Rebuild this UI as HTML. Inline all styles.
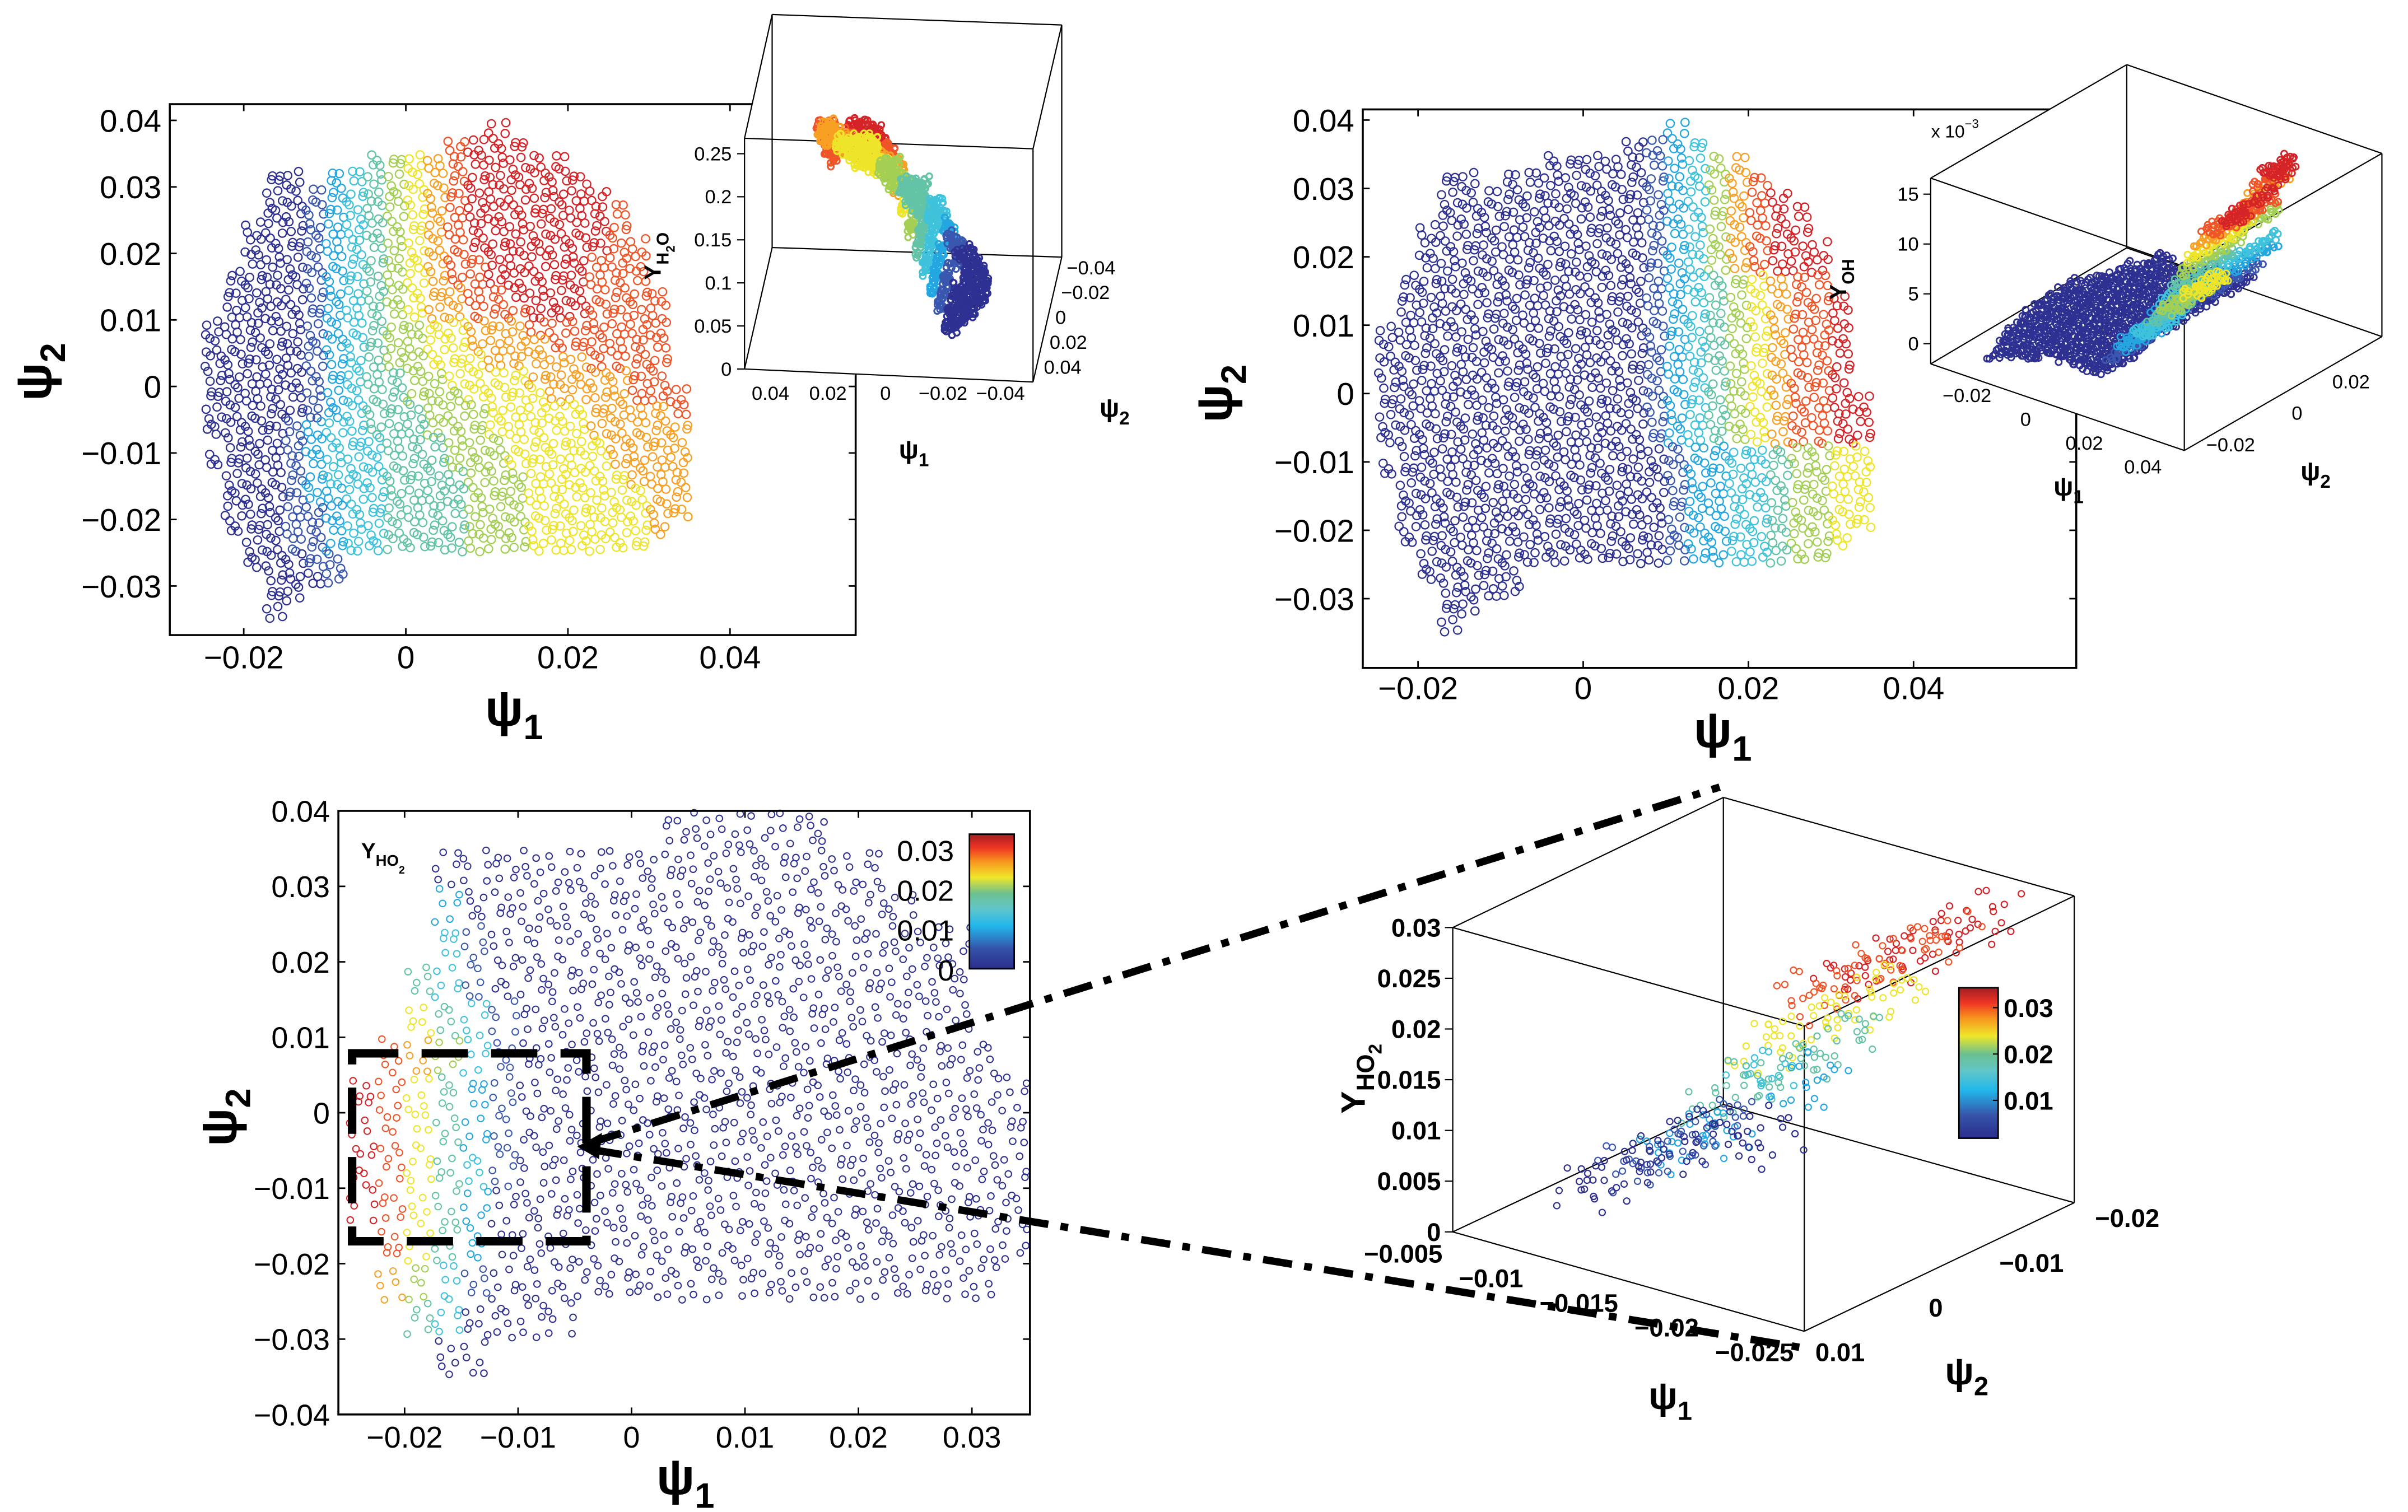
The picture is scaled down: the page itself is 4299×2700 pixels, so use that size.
<!DOCTYPE html>
<html><head><meta charset="utf-8"><title>Diffusion map embeddings</title>
<style>
html,body{margin:0;padding:0;background:#fff;}
svg{display:block;font-family:"Liberation Sans",Arial,sans-serif;}
</style></head>
<body>
<svg id="fig" xmlns="http://www.w3.org/2000/svg" width="4299" height="2700" viewBox="0 0 1559.9 979.7" preserveAspectRatio="none">
<defs>
<linearGradient id="jet" x1="0" y1="1" x2="0" y2="0">
<stop offset="0" stop-color="#2b2d8c"/><stop offset="0.15" stop-color="#3553a8"/><stop offset="0.32" stop-color="#22b8ec"/><stop offset="0.45" stop-color="#62c6c8"/><stop offset="0.56" stop-color="#6cc08e"/><stop offset="0.68" stop-color="#f0e62a"/><stop offset="0.8" stop-color="#f7931e"/><stop offset="0.9" stop-color="#ee3424"/><stop offset="1" stop-color="#a11d22"/>
</linearGradient>
</defs>
<rect x="0" y="0" width="1560" height="980" fill="#fff"/>
<g id="layer"></g>
</svg>
<script>
// ---------- data ----------
// Each row string = one psi2 band (top -> bottom), each char = colour level (0..9) of a psi1 cell, '.' = no samples
const p1Rows = [
"..............9.........",
"............8999........",
"........4567899999......",
"...00.2345678999999.....",
"...00123456789999999....",
"...001234567899999998...",
"..0001234567899999998...",
"..00012345678999999988..",
"..00012345678899999888..",
".000012345678899999888..",
".0000123456778899998888.",
".0000123456778889998888.",
"00000123455667778888888.",
"00000123455667777888888.",
"00000123455666777778888.",
"00000123445566667777788.",
"000001234455566667777888",
"000001234445556666677778",
"000012334445556666677777",
".00012333444555666667777",
"000012333444555666667777",
".00012333444455566666777",
".00012233444455566666677",
".00011233444455566666677",
".0001123344445556666667.",
"..00112334444555666666..",
"..00011.................",
"...0001.................",
"...00...................",
"...0...................."
];
const p2Rows = [
"..............2.........",
"............0123........",
"........0000012357......",
"...00.0000000123578.....",
"...00000000001235789....",
"...000000000012357899...",
"..0000000000012357899...",
"..00000000000123578999..",
"..00000000000123578999..",
".000000000000123456788..",
".0000000000001234567889.",
".0000000000001234567889.",
"00000000000001234567889.",
"00000000000001234567889.",
"00000000000001234567889.",
"00000000000001234567889.",
"000000000000012345678899",
"000000000000012345678899",
"000000000000012345678899",
".00000000000001223345566",
"000000000000001223345566",
".00000000000001223345566",
".00000000000001223345566",
".00000000000001223345566",
".0000000000000122334556.",
"..00000000000012233455..",
"..00000.................",
"...0000.................",
"...00...................",
"...0...................."
];
const p3Rows = [
"...........000000.......",
"...0000000000000000.....",
"...20000000000000000....",
"...3100000000000000000..",
"..43100000000000000000.",
"..64310000000000000000.",
".8753100000000000000000.",
"986421000000000000000000",
"986421000000000000000000",
"986431000000000000000000",
"986420000000000000000000",
".86420000000000000000000",
".7531000000000000000000..",
"..430000................",
"...00..................."
];
const p1XTicks = [-0.02, 0, 0.02, 0.04];
const p1YTicks = [0.04, 0.03, 0.02, 0.01, 0, -0.01, -0.02, -0.03];
const p2XTicks = [-0.02, 0, 0.02, 0.04];
const p2YTicks = [0.04, 0.03, 0.02, 0.01, 0, -0.01, -0.02, -0.03];
const p3XTicks = [-0.02, -0.01, 0, 0.01, 0.02, 0.03];
const p3YTicks = [0.04, 0.03, 0.02, 0.01, 0, -0.01, -0.02, -0.03, -0.04];
const cbTicks = [0, 0.01, 0.02, 0.03];
const h2oZTicks = [0, 0.05, 0.1, 0.15, 0.2, 0.25];
const h2oPsi1Ticks = [0.04, 0.02, 0, -0.02, -0.04];
const h2oPsi2Ticks = [-0.04, -0.02, 0, 0.02, 0.04];
const ohZTicks = [0, 5, 10, 15];
const ohPsi1Ticks = [-0.02, 0, 0.02, 0.04];
const ohPsi2Ticks = [0.02, 0, -0.02];
const ho2ZTicks = [0, 0.005, 0.01, 0.015, 0.02, 0.025, 0.03];
const ho2Psi1Ticks = [-0.005, -0.01, -0.015, -0.02, -0.025];
const ho2Psi2Ticks = [0.01, 0, -0.01, -0.02];
const levelColors = ["#2e3192","#3a57b0","#24a6e0","#3fc2dc","#62c3a6","#a3cf55","#eee52a","#f7a023","#ef5528","#d42428"];
const levelH2O = [0.025,0.048,0.071,0.094,0.117,0.14,0.163,0.186,0.209,0.232];
const levelOH = [0,0.0017,0.0034,0.0051,0.0068,0.0085,0.0102,0.0119,0.0136,0.0153];
const levelHO2 = [0.003,0.0061,0.0092,0.0123,0.0154,0.0185,0.0216,0.0247,0.0278,0.0309];

// ---------- helpers ----------
const NS = "http://www.w3.org/2000/svg";
const layer = document.getElementById("layer");
function add(parent, tag, name, attrs) {
  const el = document.createElementNS(NS, tag);
  for (const k in attrs) el.setAttribute(k, attrs[k]);
  
  
  parent.appendChild(el);
  return el;
}
function fmt(v) { return v < 0 ? "\u2212" + String(Math.abs(v)) : String(v); }
const JIT = [0.31,-0.42,0.12,0.47,-0.2,-0.05,0.38,-0.33,0.22,-0.12,0.44,-0.46,0.03,0.27,-0.28,0.16,-0.39,0.09,0.35,-0.17,-0.44,0.2,0.41,-0.08,-0.25];
function cells(rows, psi1Start, dPsi1, psi2Top, dPsi2) {
  const out = [];
  rows.forEach((r, ri) => {
    for (let ci = 0; ci < r.length; ci++) {
      const ch = r[ci];
      if (ch === '.') continue;
      out.push({a0: psi1Start + ci * dPsi1, a1: psi1Start + (ci + 1) * dPsi1, b1: psi2Top - ri * dPsi2, b0: psi2Top - (ri + 1) * dPsi2, L: +ch, id: ri * 31 + ci});
    }
  });
  return out;
}
function samples(c, nx, ny, fn) {
  for (let i = 0; i < nx; i++) for (let j = 0; j < ny; j++) {
    const k = (c.id * 7 + i * 5 + j * 3) % 25;
    const u = (i + 0.5 + 0.8 * JIT[k]) / nx;
    const v = (j + 0.5 + 0.8 * JIT[(k + 11) % 25]) / ny;
    fn(c.a0 + u * (c.a1 - c.a0), c.b1 - v * (c.b1 - c.b0), JIT[(k + 6) % 25]);
  }
}

// ---------- 2D panel ----------
function panel2D(cfg) {
  const g = add(layer, 'g', cfg.name, {});
  const xs = v => cfg.x0 + v * cfg.kx, ys = v => cfg.y0 - v * cfg.ky;
  const pts = add(g, 'g', 'scatter-points', {fill: 'none', 'stroke-width': cfg.sw});
  cells(cfg.rows, -0.025, cfg.dPsi1, 0.04, cfg.dPsi2).forEach(c => {
    samples(c, cfg.nx, cfg.ny, (p1, p2) => {
      const el = add(pts, 'circle', 'scatter-point', {cx: xs(p1).toFixed(1), cy: ys(p2).toFixed(1), r: cfg.r, stroke: levelColors[c.L]});
    });
  });
  const b = cfg.box;
  add(g, 'rect', 'axes-box', {x: b[0], y: b[1], width: b[2] - b[0], height: b[3] - b[1], fill: 'none', stroke: '#000', 'stroke-width': 1.3});
  cfg.xt.forEach(v => {
    const x = xs(v);
    add(g, 'line', 'x-tick', {x1: x, y1: b[3], x2: x, y2: b[3] - 4.5, stroke: '#000', 'stroke-width': 1});
    add(g, 'line', 'x-tick-top', {x1: x, y1: b[1], x2: x, y2: b[1] + 4.5, stroke: '#000', 'stroke-width': 1});
    const t = add(g, 'text', 'x-tick-label', {x: x, y: cfg.xLabY, 'text-anchor': 'middle', 'font-size': cfg.fs});
    t.textContent = fmt(v);
  });
  cfg.yt.forEach(v => {
    const y = ys(v);
    add(g, 'line', 'y-tick', {x1: b[0], y1: y, x2: b[0] + 4.5, y2: y, stroke: '#000', 'stroke-width': 1});
    add(g, 'line', 'y-tick-right', {x1: b[2], y1: y, x2: b[2] - 4.5, y2: y, stroke: '#000', 'stroke-width': 1});
    const t = add(g, 'text', 'y-tick-label', {x: b[0] - 5.5, y: y + cfg.fs * 0.36, 'text-anchor': 'end', 'font-size': cfg.fs});
    t.textContent = fmt(v);
  });
  const xl = add(g, 'text', 'x-axis-title', {x: cfg.xTitle[0], y: cfg.xTitle[1], 'text-anchor': 'middle', 'font-size': 33, 'font-weight': 'bold'});
  xl.innerHTML = 'ψ<tspan font-size="23" dy="9">1</tspan>';
  const yl = add(g, 'text', 'y-axis-title', {transform: 'translate(' + cfg.yTitle[0] + ',' + cfg.yTitle[1] + ') rotate(-90)', 'text-anchor': 'middle', 'font-size': 33, 'font-weight': 'bold'});
  yl.innerHTML = 'ψ<tspan font-size="23" dy="9">2</tspan>';
  return g;
}
panel2D({name: 'panel-h2o-2d', rows: p1Rows, dPsi1: 0.0025, dPsi2: 0.0025, x0: 262.9, kx: 5250, y0: 250.4, ky: 4310, box: [110, 67.5, 554.3, 411.5], xt: p1XTicks, yt: p1YTicks, xLabY: 433, fs: 20.5, nx: 2, ny: 2, r: 2.6, sw: 0.85, xTitle: [333, 470], yTitle: [33, 241]});
panel2D({name: 'panel-oh-2d', rows: p2Rows, dPsi1: 0.0025, dPsi2: 0.0025, x0: 1025.6, kx: 5350, y0: 255, ky: 4430, box: [882.8, 70.9, 1345, 432.8], xt: p2XTicks, yt: p2YTicks, xLabY: 453, fs: 20.5, nx: 2, ny: 2, r: 2.6, sw: 0.85, xTitle: [1116, 484], yTitle: [798, 255]});
panel2D({name: 'panel-ho2-2d', rows: p3Rows, dPsi1: 0.0025, dPsi2: 0.005, x0: 409.1, kx: 7350, y0: 721, ky: 4889, box: [219.2, 525.4, 667.2, 916.5], xt: p3XTicks, yt: p3YTicks, xLabY: 938, fs: 19.5, nx: 2, ny: 3, r: 2.1, sw: 0.75, xTitle: [444, 968], yTitle: [153, 724]});

// ---------- colorbar of panel 3 ----------
(function(){
  const g = add(layer, 'g', 'colorbar-2d', {});
  add(g, 'rect', 'colorbar-ramp', {x: 628, y: 540.5, width: 29, height: 87.2, fill: 'url(#jet)', stroke: '#000', 'stroke-width': 1});
  cbTicks.forEach(v => {
    const y = 628.3 - v / 0.01 * 25.8;
    const t = add(g, 'text', 'colorbar-label', {x: 618, y: y + 7, 'text-anchor': 'end', 'font-size': 19});
    t.textContent = String(v);
  });
  const yl = add(g, 'text', 'species-label', {x: 234, y: 556, 'font-size': 14, 'font-weight': 'bold'});
  yl.innerHTML = 'Y<tspan font-size="10" dy="5">HO</tspan><tspan font-size="7" dy="5">2</tspan>';
})();

// ---------- 3D helpers ----------
function cube(g, P, edges, hull) {
  if (hull) add(g, 'polygon', 'inset-background', {points: hull.map(k => P[k].join(',')).join(' '), fill: '#fff'});
  edges.forEach(e => add(g, 'line', 'cube-edge', {x1: P[e[0]][0], y1: P[e[0]][1], x2: P[e[1]][0], y2: P[e[1]][1], stroke: '#000', 'stroke-width': 0.8}));
}
function label(g, name, x, y, txt, fs, anchor, bold) {
  const t = add(g, 'text', name, {x: x, y: y, 'text-anchor': anchor, 'font-size': fs, 'font-weight': bold ? 'bold' : 'normal'});
  t.textContent = txt;
  return t;
}

// ---------- inset: Y_H2O 3D ----------
(function(){
  const g = add(layer, 'g', 'inset-h2o-3d', {});
  const P = {A:[500.2,9.4],B:[687.8,16.2],C:[482.3,89.6],D:[669.2,96.4],E:[500.2,160.4],F:[687.8,166.6],G:[482.3,239.1],H:[669.2,247.5]};
  cube(g, P, [['A','B'],['C','D'],['A','C'],['B','D'],['A','E'],['B','F'],['C','G'],['D','H'],['E','F'],['G','H'],['E','G'],['F','H']], ['A','B','F','H','G','C']);
  function proj(p1, p2, Y) {
    const xf = 509.1 + (0.04 - p1) / 0.08 * 149, yf = 239.1 + (xf - 482.3) * 0.045, d = (0.052 - p2) / 0.01;
    return [xf + d * 1.85, yf - d * 8.05 - Y / 0.05 * 27.9];
  }
  const pts = add(g, 'g', 'scatter-points', {fill: 'none', 'stroke-width': 1.15});
  cells(p1Rows, -0.025, 0.0025, 0.04, 0.0025).forEach(c => {
    samples(c, 2, 2, (a, b, j) => {
      const q = proj(a, b, levelH2O[c.L] + j * 0.012);
      const el = add(pts, 'circle', 'scatter-point', {cx: q[0].toFixed(1), cy: q[1].toFixed(1), r: 1.9, stroke: levelColors[c.L]});
    });
  });
  h2oZTicks.forEach(v => {
    const y = 239.1 - v / 0.05 * 27.9;
    add(g, 'line', 'z-tick', {x1: 482.3, y1: y, x2: 477.5, y2: y, stroke: '#000', 'stroke-width': 0.8});
    label(g, 'z-tick-label', 474, y + 4.3, String(v), 12.5, 'end');
  });
  h2oPsi1Ticks.forEach(v => {
    const x = 509.1 + (0.04 - v) / 0.08 * 149;
    label(g, 'psi1-tick-label', x - 10, 259, fmt(v), 12.5, 'middle');
  });
  h2oPsi2Ticks.forEach(v => {
    const d = (0.052 - v) / 0.01;
    label(g, 'psi2-tick-label', 674 + d * 1.85, 251.8 - d * 8.05, fmt(v), 12.5, 'start');
  });
  const t1 = add(g, 'text', 'psi1-axis-title', {x: 592, y: 297, 'text-anchor': 'middle', 'font-size': 17, 'font-weight': 'bold'});
  t1.innerHTML = 'ψ<tspan font-size="12" dy="5">1</tspan>';
  const t2 = add(g, 'text', 'psi2-axis-title', {x: 722, y: 270, 'text-anchor': 'middle', 'font-size': 17, 'font-weight': 'bold'});
  t2.innerHTML = 'ψ<tspan font-size="12" dy="5">2</tspan>';
  const t3 = add(g, 'text', 'z-axis-title', {transform: 'translate(428,166) rotate(-90)', 'text-anchor': 'middle', 'font-size': 15, 'font-weight': 'bold'});
  t3.innerHTML = 'Y<tspan font-size="11" dy="5">H</tspan><tspan font-size="8" dy="4">2</tspan><tspan font-size="11" dy="-4">O</tspan>';
})();

// ---------- inset: Y_OH 3D ----------
(function(){
  const g = add(layer, 'g', 'inset-oh-3d', {});
  const P = {L1:[1250.7,115.4],L2:[1250.7,235.8],A:[1377.7,41.9],Ab:[1377.7,160.6],R1:[1543,99.4],R2:[1543,218.1],F1:[1415,172.7],F2:[1415,291.9]};
  cube(g, P, [['L1','A'],['A','R1'],['L1','F1'],['F1','R1'],['L1','L2'],['R1','R2'],['F1','F2'],['A','Ab'],['L2','F2'],['F2','R2'],['L2','Ab'],['Ab','R2']], ['L1','A','R1','R2','F2','L2']);
  function proj(p1, p2, Z) {
    return [1321 + p1 / 0.02 * 43.96 + (p2 + 0.0367) / 0.02 * 33.5, 259.8 + p1 / 0.02 * 15.6 - (p2 + 0.0367) / 0.02 * 19.8 - (Z + 0.002) * 6460];
  }
  const pts = add(g, 'g', 'scatter-points', {fill: 'none', 'stroke-width': 1.05});
  cells(p2Rows, -0.025, 0.0025, 0.04, 0.0025).forEach(c => {
    samples(c, 2, 2, (a, b, j) => {
      const q = proj(a, b, levelOH[c.L] + j * 0.0008);
      const el = add(pts, 'circle', 'scatter-point', {cx: q[0].toFixed(1), cy: q[1].toFixed(1), r: 2.0, stroke: levelColors[c.L]});
    });
  });
  ohZTicks.forEach(v => {
    const y = 222.7 - v / 5 * 32.3;
    add(g, 'line', 'z-tick', {x1: 1250.7, y1: y, x2: 1246, y2: y, stroke: '#000', 'stroke-width': 0.8});
    label(g, 'z-tick-label', 1243, y + 4.3, String(v), 12.5, 'end');
  });
  const ex = add(g, 'text', 'exponent-label', {x: 1251, y: 89, 'font-size': 11.5});
  ex.innerHTML = 'x 10<tspan font-size="8" dy="-6">\u22123</tspan>';
  ohPsi1Ticks.forEach(v => {
    label(g, 'psi1-tick-label', 1312.2 + v / 0.02 * 38, 276 + v / 0.02 * 15.4, fmt(v), 12.5, 'middle');
  });
  ohPsi2Ticks.forEach(v => {
    label(g, 'psi2-tick-label', 1488 + v / 0.02 * 35 + (v < 0 ? -8 : 0), 272 - v / 0.02 * 20.4, fmt(v), 12.5, 'middle');
  });
  const t1 = add(g, 'text', 'psi1-axis-title', {x: 1340, y: 321, 'text-anchor': 'middle', 'font-size': 17, 'font-weight': 'bold'});
  t1.innerHTML = 'ψ<tspan font-size="12" dy="5">1</tspan>';
  const t2 = add(g, 'text', 'psi2-axis-title', {x: 1500, y: 311, 'text-anchor': 'middle', 'font-size': 17, 'font-weight': 'bold'});
  t2.innerHTML = 'ψ<tspan font-size="12" dy="5">2</tspan>';
  const t3 = add(g, 'text', 'z-axis-title', {transform: 'translate(1196,181) rotate(-90)', 'text-anchor': 'middle', 'font-size': 15, 'font-weight': 'bold'});
  t3.innerHTML = 'Y<tspan font-size="11" dy="5">OH</tspan>';
})();

// ---------- zoom box and dash-dot connectors ----------
(function(){
  const g = add(layer, 'g', 'zoom-annotation', {});
  add(g, 'rect', 'zoom-region-box', {x: 228.1, y: 682.5, width: 151.8, height: 121.8, fill: 'none', stroke: '#000', 'stroke-width': 5.5, 'stroke-dasharray': '30 15'});
  add(g, 'line', 'connector-upper', {x1: 384, y1: 740, x2: 1114, y2: 510, stroke: '#000', 'stroke-width': 4.8, 'stroke-dasharray': '19 8 5 8'});
  add(g, 'line', 'connector-lower', {x1: 384, y1: 745, x2: 1172, y2: 874, stroke: '#000', 'stroke-width': 4.8, 'stroke-dasharray': '19 8 5 8'});
  add(g, 'polygon', 'connector-arrowhead', {points: '374,743 390,734 388,751', fill: '#000'});
})();

// ---------- Y_HO2 3D (zoomed region) ----------
(function(){
  const g = add(layer, 'g', 'panel-ho2-3d', {});
  const P = {BT:[1116.4,516.7],BB:[1116.4,715.7],FLT:[941.1,601.0],FLB:[941.1,798.2],RT:[1343.7,580.5],RB:[1343.7,779.3],FT:[1168.8,664.9],FB:[1168.8,862.6]};
  cube(g, P, [['FLT','BT'],['BT','RT'],['FLT','FT'],['FT','RT'],['FLT','FLB'],['RT','RB'],['FT','FB'],['BT','BB'],['FLB','FB'],['FB','RB'],['FLB','BB'],['BB','RB']], null);
  function proj(p1, p2, Z) {
    const a = (p1 + 0.005) / -0.02, b = (0.01 - p2) / 0.03;
    return [941.1 + a * 227.7 + b * 174.9, 798.2 + a * 64.4 - b * 83.3 - Z / 0.03 * 197.2];
  }
  const pts = add(g, 'g', 'scatter-points', {fill: 'none', 'stroke-width': 0.8});
  cells(p3Rows, -0.025, 0.0025, 0.04, 0.005).forEach(c => {
    if (c.a1 > -0.0074 || c.b1 > 0.0076 || c.b0 < -0.0151) return;
    samples(c, 4, 4, (a, b, j) => {
      const q = proj(a, b, levelHO2[c.L] + j * 0.004);
      const el = add(pts, 'circle', 'scatter-point', {cx: q[0].toFixed(1), cy: q[1].toFixed(1), r: 2.0, stroke: levelColors[c.L]});
    });
  });
  ho2ZTicks.forEach(v => {
    const y = 798.2 - v / 0.03 * 197.2;
    add(g, 'line', 'z-tick', {x1: 941.1, y1: y, x2: 936, y2: y, stroke: '#000', 'stroke-width': 0.8});
    label(g, 'z-tick-label', 933.4, y + 5.8, String(v), 16.5, 'end', true);
  });
  ho2Psi1Ticks.forEach(v => {
    const a = (v + 0.005) / -0.02;
    label(g, 'psi1-tick-label', 909 + a * 227.5, 818 + a * 64, fmt(v), 16.5, 'middle', true);
  });
  ho2Psi2Ticks.forEach(v => {
    const b = (0.01 - v) / 0.03;
    label(g, 'psi2-tick-label', 1192 + b * 186, 882 - b * 87, fmt(v), 16.5, 'middle', true);
  });
  const t1 = add(g, 'text', 'psi1-axis-title', {x: 1082, y: 913, 'text-anchor': 'middle', 'font-size': 25, 'font-weight': 'bold'});
  t1.innerHTML = 'ψ<tspan font-size="17" dy="7">1</tspan>';
  const t2 = add(g, 'text', 'psi2-axis-title', {x: 1274, y: 897, 'text-anchor': 'middle', 'font-size': 25, 'font-weight': 'bold'});
  t2.innerHTML = 'ψ<tspan font-size="17" dy="7">2</tspan>';
  const t3 = add(g, 'text', 'z-axis-title', {transform: 'translate(884,699) rotate(-90)', 'text-anchor': 'middle', 'font-size': 22, 'font-weight': 'bold'});
  t3.innerHTML = 'Y<tspan font-size="16" dy="6">HO</tspan><tspan font-size="12" dy="5">2</tspan>';
  add(g, 'rect', 'colorbar-ramp', {x: 1269, y: 640, width: 25.4, height: 97.5, fill: 'url(#jet)', stroke: '#000', 'stroke-width': 1});
  [0.01, 0.02, 0.03].forEach(v => {
    const y = 713 - (v - 0.01) / 0.01 * 30.05;
    add(g, 'line', 'colorbar-tick', {x1: 1294.4, y1: y, x2: 1291, y2: y, stroke: '#000', 'stroke-width': 0.8});
    label(g, 'colorbar-label', 1298, y + 6, String(v), 16.5, 'start', true);
  });
})();
</script>
</body></html>
